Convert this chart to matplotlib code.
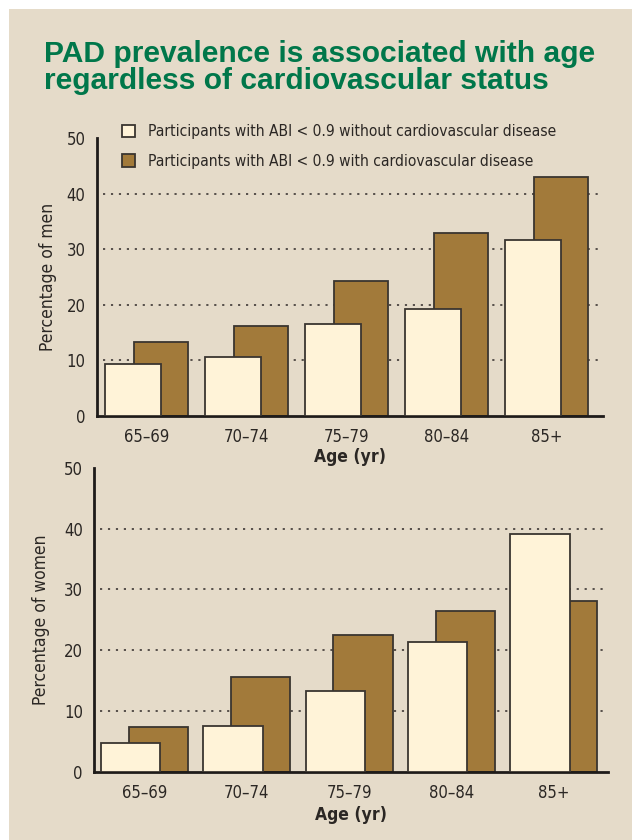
import numpy as np
import matplotlib
matplotlib.use('Agg')
import matplotlib.pyplot as plt
from matplotlib.patches import Rectangle

ages = ['65\u201369', '70\u201374', '75\u201379', '80\u201384', '85+']
men_no_cvd = [9.3, 10.6, 16.6, 19.2, 31.6]
men_cvd = [13.3, 16.2, 24.2, 32.9, 43.0]
women_no_cvd = [4.8, 7.5, 13.3, 21.4, 39.1]
women_cvd = [7.4, 15.5, 22.5, 26.4, 28.1]
lab_no = 'Participants with ABI < 0.9 without cardiovascular disease'
lab_yes = 'Participants with ABI < 0.9 with cardiovascular disease'

bg = '#e5dbc9'
cream = '#fff3d8'
brown = '#a27a3a'
edge = '#3a3530'
txt = '#2b2724'
green = '#00774a'

plt.rcParams['font.family'] = ['DejaVu Sans']
plt.rcParams['font.stretch'] = 'condensed'

fig = plt.figure(figsize=(6.32, 8.4), dpi=100, facecolor='white')
fig.patches.append(Rectangle((9/632, 0), 1, 1 - 9/840, transform=fig.transFigure,
                             facecolor=bg, edgecolor='none', zorder=-5))

fig.text(44/632, 1 - 62/840, 'PAD prevalence is associated with age',
         color=green, fontsize=21.6, fontweight='bold', ha='left', va='baseline',
         family='Liberation Sans')
fig.text(44/632, 1 - 89/840, 'regardless of cardiovascular status',
         color=green, fontsize=21.6, fontweight='bold', ha='left', va='baseline',
         family='Liberation Sans')

def panel(rect, white_vals, brown_vals, ylabel, ww, bw, woff, boff, xl, xr, ylpad, xlpad, legend=False):
    ax = fig.add_axes(rect)
    ax.set_facecolor('none')
    x = np.arange(len(ages))
    b2 = ax.bar(x + boff, brown_vals, bw, color=brown, edgecolor=edge, linewidth=1.3, zorder=2, label=lab_yes)
    b1 = ax.bar(x - woff, white_vals, ww, color=cream, edgecolor=edge, linewidth=1.3, zorder=3, label=lab_no)
    for g in [10, 20, 30, 40]:
        ax.axhline(g, xmin=0.012, xmax=0.995, color='#4a4440', lw=1.3, ls=(0, (1.2, 3.2)), zorder=1)
    ax.set_xlim(xl, xr)
    ax.set_ylim(0, 50)
    ax.set_yticks([0, 10, 20, 30, 40, 50])
    ax.set_xticks(x)
    ax.set_xticklabels(ages)
    ax.tick_params(length=0, labelsize=12, colors=txt)
    ax.tick_params(axis='x', pad=9)
    ax.tick_params(axis='y', pad=8)
    for s in ['top', 'right']:
        ax.spines[s].set_visible(False)
    for s in ['left', 'bottom']:
        ax.spines[s].set_linewidth(2)
        ax.spines[s].set_color('#1e1b19')
    ax.set_ylabel(ylabel, fontsize=12.5, color=txt, labelpad=ylpad)
    ax.set_xlabel('Age (yr)', fontsize=12.5, color=txt, fontweight='bold', labelpad=xlpad)
    if legend:
        ax.legend(handles=[b1, b2], loc='upper left', bbox_to_anchor=(0.05, 1.05), frameon=False,
                  fontsize=11.2, handlelength=0.85, handleheight=0.85, handletextpad=0.85,
                  labelspacing=0.95, labelcolor=txt, borderpad=0, borderaxespad=0)
    return ax

panel([96.5/632, (840-416)/840, 506/632, 278/840], men_no_cvd, men_cvd,
      'Percentage of men', 0.56, 0.54, 0.135, 0.14, -0.5, 4.56, 7, 1, legend=True)
panel([94/632, (840-771.7)/840, 514/632, 304/840], women_no_cvd, women_cvd,
      'Percentage of women', 0.58, 0.58, 0.135, 0.135, -0.494, 4.53, 10, 3)

fig.savefig('out.png', dpi=100, facecolor=fig.get_facecolor())
